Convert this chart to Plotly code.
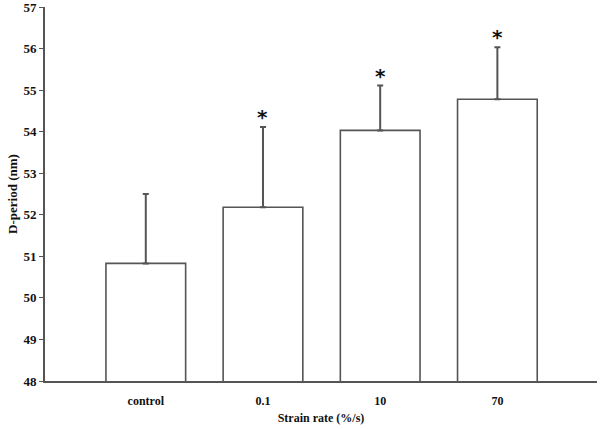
import plotly.graph_objects as go

categories = ["control", "0.1", "10", "70"]
means = [50.83, 52.18, 54.03, 54.78]
err_plus = [1.67, 1.93, 1.08, 1.25]
significant = [False, True, True, True]
y_ticks = [48, 49, 50, 51, 52, 53, 54, 55, 56, 57]

line_col = "#555555"
text_col = "#111111"
font_family = "Liberation Serif, Times New Roman, serif"

fig = go.Figure()
fig.add_trace(go.Bar(
    x=list(range(len(categories))),
    y=means,
    width=0.68,
    marker=dict(color="white", line=dict(color=line_col, width=1.6)),
    error_y=dict(type="data", symmetric=False, array=err_plus,
                 arrayminus=[0] * len(means), color=line_col,
                 thickness=2, width=3),
    showlegend=False,
    hoverinfo="skip",
))

for i, (m, e, s) in enumerate(zip(means, err_plus, significant)):
    if s:
        fig.add_annotation(x=i, y=m + e, text="<b>*</b>", showarrow=False,
                           yshift=10, font=dict(size=20, color=text_col,
                                                family="DejaVu Sans"))

fig.update_layout(
    width=601, height=429,
    margin=dict(l=45, r=4, t=7, b=48),
    paper_bgcolor="white", plot_bgcolor="white",
    font=dict(family=font_family, color=text_col),
    xaxis=dict(
        range=[-0.86, 3.85], automargin=False,
        tickmode="array", tickvals=list(range(len(categories))),
        ticktext=["<b>%s</b>" % c for c in categories],
        tickfont=dict(size=12, family=font_family, color=text_col),
        showline=True, linecolor=line_col, linewidth=1.6,
        ticks="", ticklabelstandoff=8, showgrid=False, zeroline=False,
        title=dict(text="<b>Strain rate (%/s)</b>",
                   font=dict(size=12, family=font_family, color=text_col),
                   standoff=6),
    ),
    yaxis=dict(
        range=[48, 57.0001], automargin=False,
        tickmode="array", tickvals=y_ticks,
        ticktext=["<b>%d</b>" % t for t in y_ticks],
        tickfont=dict(size=13, family=font_family, color=text_col),
        ticklabeloverflow="allow",
        showline=True, linecolor=line_col, linewidth=1.6,
        ticks="outside", ticklen=4, tickcolor=line_col, tickwidth=1.2,
        showgrid=False, zeroline=False,
        title=dict(text="<b>D-period (nm)</b>",
                   font=dict(size=13, family=font_family, color=text_col),
                   standoff=3),
    ),
)

fig.write_html("out.html", config={"displayModeBar": False},
               post_script="document.body.style.margin='0';document.body.style.overflow='hidden';")
